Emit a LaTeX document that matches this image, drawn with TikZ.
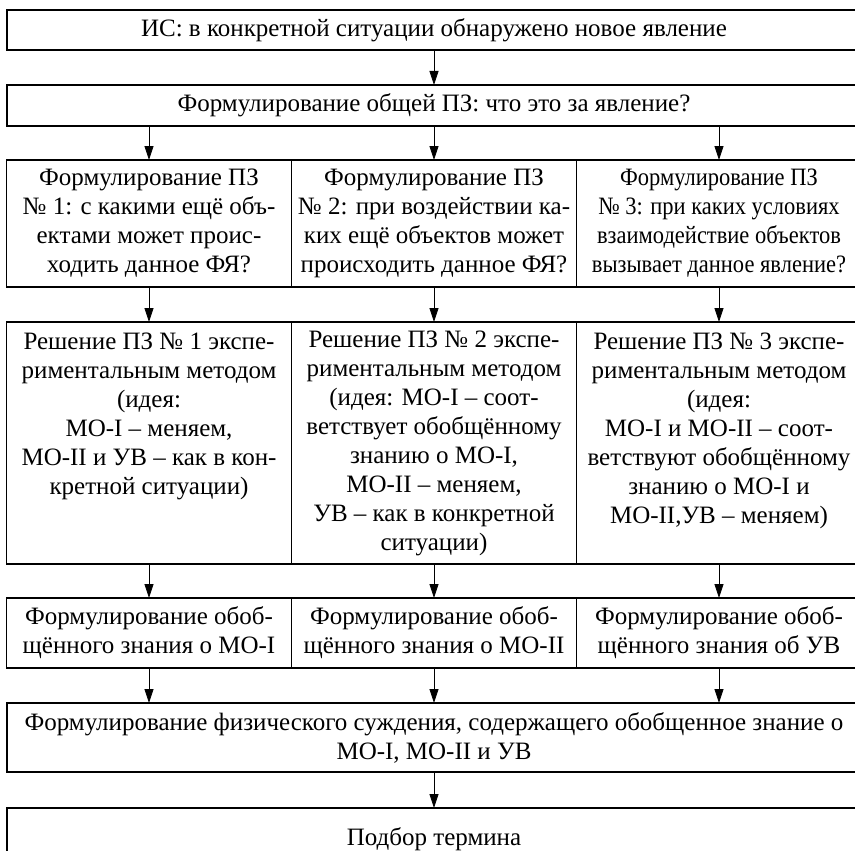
\documentclass[tikz,border=0pt]{standalone}
\usepackage{fontspec}
\setmainfont{Liberation Serif}
\newfontfamily\narrowserif[FakeStretch=0.9]{Liberation Serif}
\usetikzlibrary{arrows.meta, positioning}

\begin{document}
\begin{tikzpicture}[
    x=1pt, y=-1pt,
    % Node styles
    wide box/.style={
        rectangle, draw, line width=1.2pt, outer sep=0pt,
        minimum width=854pt, inner sep=4pt, align=center,
        font=\fontsize{25}{29}\selectfont,
    },
    cell/.style={
        wide box, minimum width=285pt,
    },
    % Arrow style
    flow/.style={
        draw, line width=0.8pt, -{Triangle[length=14pt, width=9pt]},
    },
    % vertical gap between the rows
    node distance=35pt,
]
    \useasboundingbox (0,0) rectangle (855,851);

    \node[wide box, minimum height=40pt, anchor=north west] (ic) at (7,10)
        {ИС: в конкретной ситуации обнаружено новое явление};
    \node[wide box, minimum height=41pt, below=of ic] (gen)
        {Формулирование общей ПЗ: что это за явление?};

    % --- the three particular problems ---
    \node[cell, minimum height=127pt, below=34pt of gen] (pz2)
        {Формулирование ПЗ\\№ 2: при воздействии ка-\\ких ещё объектов может\\происходить данное ФЯ?};
    \node[cell, minimum height=127pt, left=0pt of pz2] (pz1)
        {Формулирование ПЗ\\№ 1: с какими ещё объ-\\ектами может проис-\\ходить данное ФЯ?};
    \node[cell, minimum height=127pt, right=0pt of pz2,
          font=\fontsize{25}{29}\narrowserif] (pz3)
        {Формулирование ПЗ\\№ 3: при каких условиях\\взаимодействие объектов\\вызывает данное явление?};

    % --- experimental solutions ---
    \node[cell, minimum height=242pt, below=of pz2] (sol2)
        {Решение ПЗ № 2 экспе-\\риментальным методом\\(идея: МО-I – соот-\\ветствует обобщённому\\знанию о МО-I,\\МО-II – меняем,\\УВ – как в конкретной\\ситуации)};
    \node[cell, minimum height=242pt, left=0pt of sol2] (sol1)
        {Решение ПЗ № 1 экспе-\\риментальным методом\\(идея:\\МО-I – меняем,\\МО-II и УВ – как в кон-\\кретной ситуации)\\~\\~};
    \node[cell, minimum height=242pt, right=0pt of sol2] (sol3)
        {Решение ПЗ № 3 экспе-\\риментальным методом\\(идея:\\МО-I и МО-II – соот-\\ветствуют обобщённому\\знанию о МО-I и\\МО-II,УВ – меняем)\\~};

    % --- generalised knowledge ---
    \node[cell, minimum height=70pt, below=34pt of sol2] (know2)
        {Формулирование обоб-\\щённого знания о МО-II};
    \node[cell, minimum height=70pt, left=0pt of know2] (know1)
        {Формулирование обоб-\\щённого знания о МО-I};
    \node[cell, minimum height=70pt, right=0pt of know2] (know3)
        {Формулирование обоб-\\щённого знания об УВ};

    \node[wide box, minimum height=69pt, below=of know2] (judg)
        {Формулирование физического суждения, содержащего обобщенное знание о\\МО-I, МО-II и УВ};
    \node[wide box, minimum height=62pt, below=36pt of judg] (term)
        {Подбор термина};

    % --- connectors ---
    \draw[flow] (ic) -- (gen);
    \foreach \c in {1,2,3} {
        \draw[flow] (gen.south -| pz\c.north) -- (pz\c.north);
        \draw[flow] (pz\c) -- (sol\c);
        \draw[flow] (sol\c) -- (know\c);
        \draw[flow] (know\c.south) -- (know\c.south |- judg.north);
    }
    \draw[flow] (judg) -- (term);
\end{tikzpicture}
\end{document}
